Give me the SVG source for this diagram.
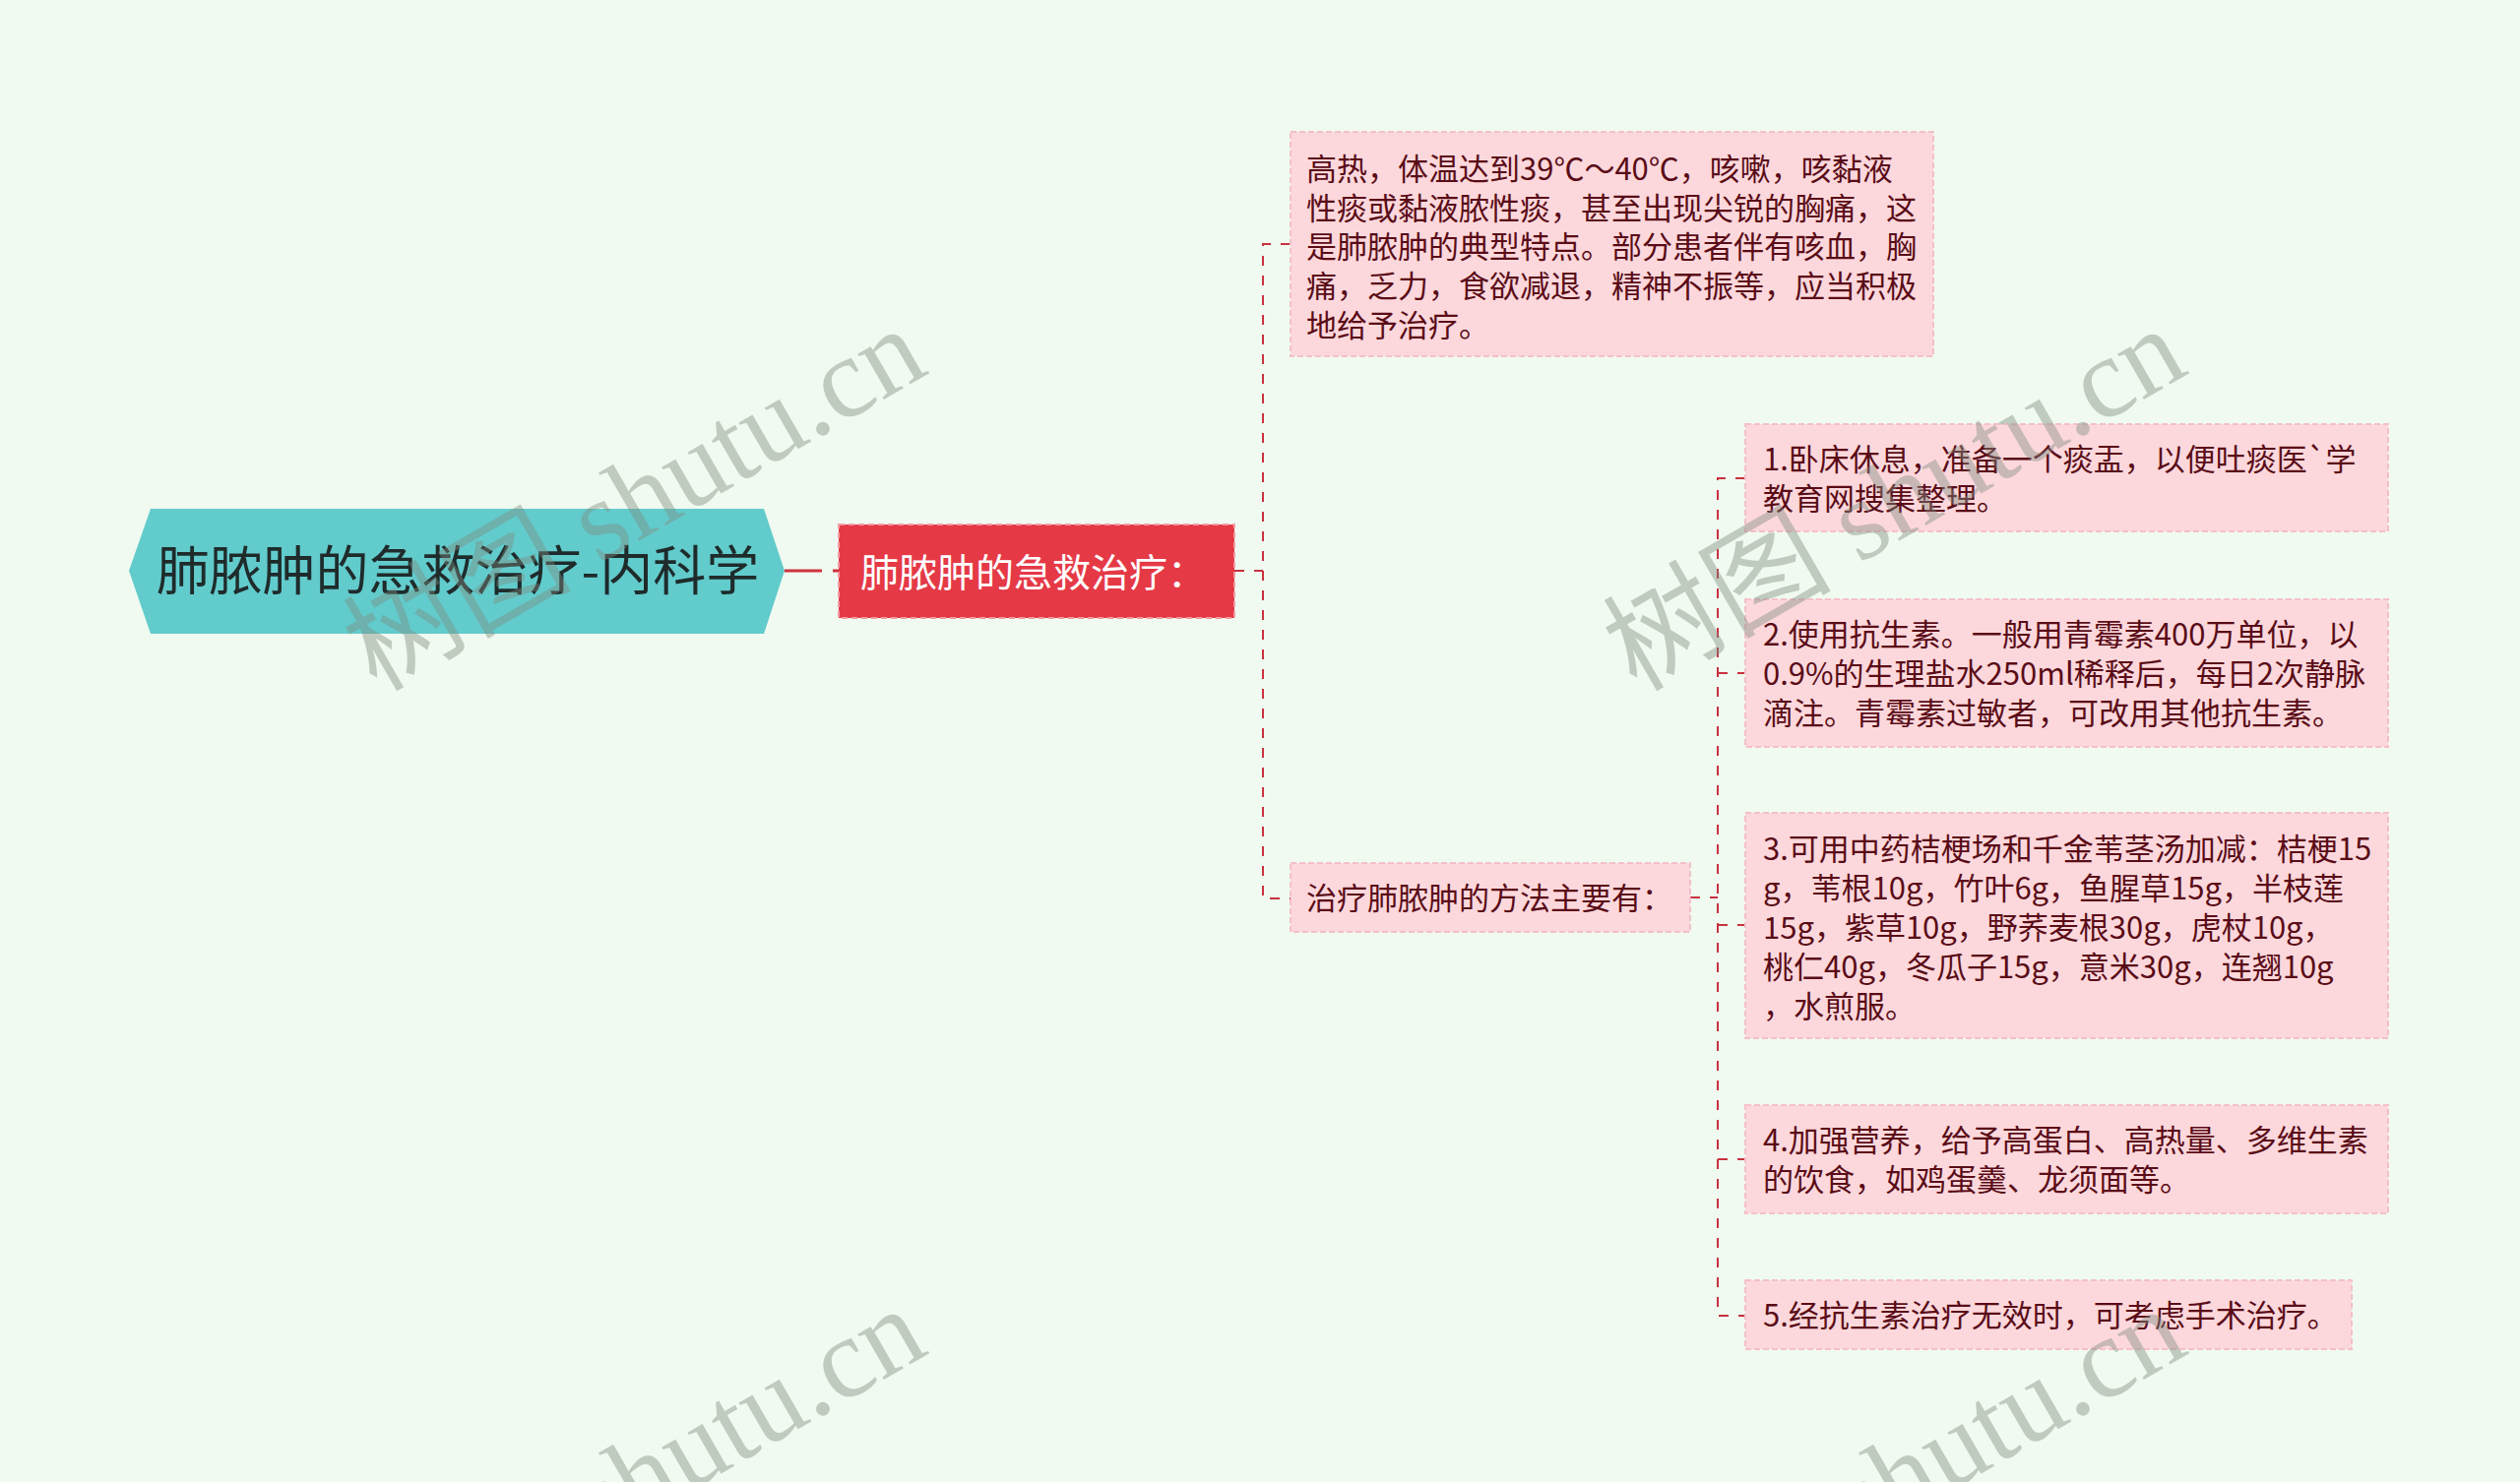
<svg xmlns="http://www.w3.org/2000/svg" width="2560" height="1506" viewBox="0 0 2560 1506">
<style>
.conn{fill:none;stroke:#c9323f;stroke-width:2;stroke-dasharray:10 10}
.pink{fill:#fcd8dc;stroke:#f4c0c7;stroke-width:2;stroke-dasharray:6 3}
.t{font-family:"Noto Sans CJK SC","Noto Sans",sans-serif;font-size:31px;fill:#5a0c17}
.wm{font-family:"Liberation Serif","Noto Sans CJK SC",serif;font-size:116px;fill:#7f8c80;opacity:0.42}
</style>
<rect x="0" y="0" width="2560" height="1506" fill="#f0faf0"/>
<g id="connectors">
<line x1="797" y1="580" x2="852" y2="580" stroke="#d0323f" stroke-width="3" stroke-dasharray="38 11"/>
<path class="conn" d="M1254 580 H1283"/>
<path class="conn" d="M1311 248 H1283 V913 H1311"/>
<path class="conn" d="M1717 912 H1745"/>
<path class="conn" d="M1773 486 H1745 V1337 H1773"/>
<path class="conn" d="M1745 684 H1773"/>
<path class="conn" d="M1745 940 H1773"/>
<path class="conn" d="M1745 1178 H1773"/>
</g>
<g id="root">
<polygon points="131,580 153,517 776,517 797,580 776,644 153,644" fill="#62cbcc"/>
<text x="465" y="600" text-anchor="middle" font-family="Noto Sans CJK SC, Noto Sans, sans-serif" font-size="54" fill="#1f2b2b">肺脓肿的急救治疗-内科学</text>
</g>
<g id="main">
<rect x="852" y="533" width="402" height="95" fill="#e53946" stroke="#f39aa3" stroke-width="2" stroke-dasharray="6 4"/>
<text x="874" y="596" font-family="Noto Sans CJK SC, Noto Sans, sans-serif" font-size="39" fill="#ffffff">肺脓肿的急救治疗：</text>
</g>
<g id="symptoms">
<rect class="pink" x="1311" y="134" width="653" height="228"/>
<text class="t" x="1327" y="183">高热，体温达到39℃～40℃，咳嗽，咳黏液</text>
<text class="t" x="1327" y="223">性痰或黏液脓性痰，甚至出现尖锐的胸痛，这</text>
<text class="t" x="1327" y="262">是肺脓肿的典型特点。部分患者伴有咳血，胸</text>
<text class="t" x="1327" y="302">痛，乏力，食欲减退，精神不振等，应当积极</text>
<text class="t" x="1327" y="342">地给予治疗。</text>
</g>
<g id="methods">
<rect class="pink" x="1311" y="877" width="406" height="70"/>
<text class="t" x="1327" y="924">治疗肺脓肿的方法主要有：</text>
</g>
<g id="item1">
<rect class="pink" x="1773" y="431" width="653" height="109"/>
<text class="t" x="1791" y="478">1.卧床休息，准备一个痰盂，以便吐痰医`学</text>
<text class="t" x="1791" y="518">教育网搜集整理。</text>
</g>
<g id="item2">
<rect class="pink" x="1773" y="609" width="653" height="150"/>
<text class="t" x="1791" y="656">2.使用抗生素。一般用青霉素400万单位，以</text>
<text class="t" x="1791" y="696">0.9%的生理盐水250ml稀释后，每日2次静脉</text>
<text class="t" x="1791" y="736">滴注。青霉素过敏者，可改用其他抗生素。</text>
</g>
<g id="item3">
<rect class="pink" x="1773" y="826" width="653" height="229"/>
<text class="t" x="1791" y="874">3.可用中药桔梗场和千金苇茎汤加减：桔梗15</text>
<text class="t" x="1791" y="914">g，苇根10g，竹叶6g，鱼腥草15g，半枝莲</text>
<text class="t" x="1791" y="954">15g，紫草10g，野荞麦根30g，虎杖10g，</text>
<text class="t" x="1791" y="994">桃仁40g，冬瓜子15g，意米30g，连翘10g</text>
<text class="t" x="1791" y="1034">，水煎服。</text>
</g>
<g id="item4">
<rect class="pink" x="1773" y="1123" width="653" height="110"/>
<text class="t" x="1791" y="1170">4.加强营养，给予高蛋白、高热量、多维生素</text>
<text class="t" x="1791" y="1210">的饮食，如鸡蛋羹、龙须面等。</text>
</g>
<g id="item5">
<rect class="pink" x="1773" y="1301" width="616" height="70"/>
<text class="t" x="1791" y="1348">5.经抗生素治疗无效时，可考虑手术治疗。</text>
</g>
<g id="watermarks">
<text class="wm" text-anchor="middle" transform="translate(664,541) rotate(-30)">树图 shutu.cn</text>
<text class="wm" text-anchor="middle" transform="translate(1944,541) rotate(-30)">树图 shutu.cn</text>
<text class="wm" text-anchor="middle" transform="translate(664,1537) rotate(-30)">树图 shutu.cn</text>
<text class="wm" text-anchor="middle" transform="translate(1944,1537) rotate(-30)">树图 shutu.cn</text>
</g>
</svg>
